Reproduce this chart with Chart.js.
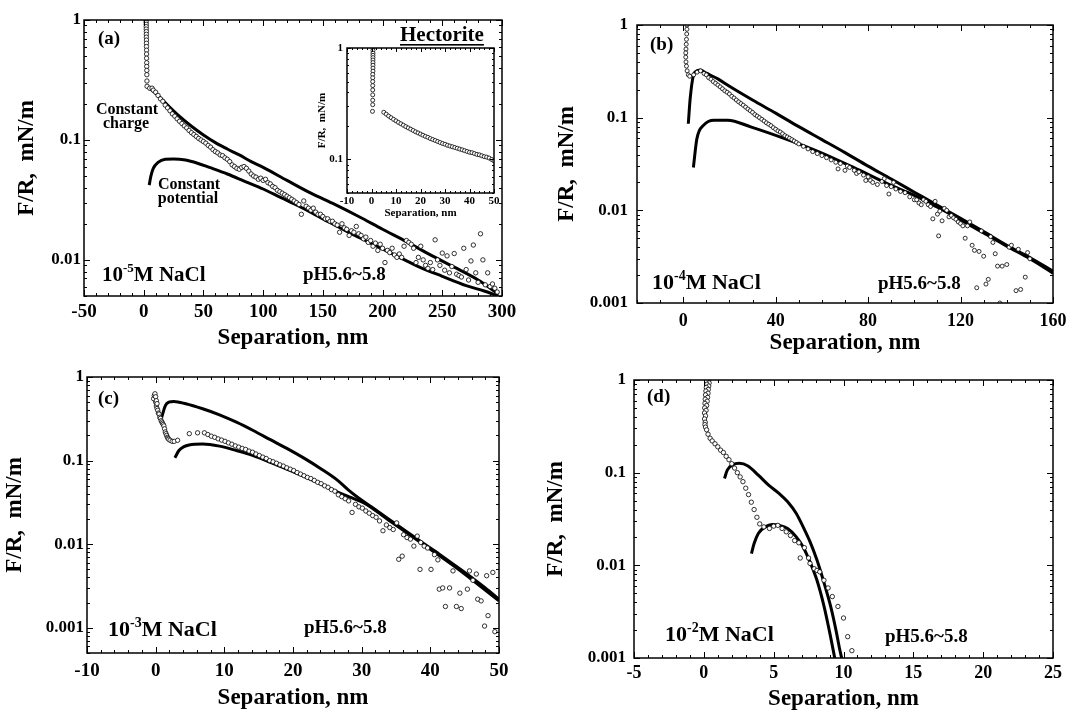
<!DOCTYPE html>
<html>
<head>
<meta charset="utf-8">
<title>Hectorite force curves</title>
<script src="https://cdn.jsdelivr.net/npm/chart.js@4.4.1/dist/chart.umd.min.js"></script>
<style>
  body { margin: 0; background: #fff; }
  #page { position: relative; width: 1066px; height: 717px; overflow: hidden; background: #fff; }
  canvas { position: absolute; }
</style>
</head>
<body>
<div id="page">
  <canvas id="panelA" width="533" height="360" style="left:0;top:0"></canvas>
  <canvas id="panelB" width="533" height="360" style="left:533px;top:0"></canvas>
  <canvas id="panelC" width="533" height="357" style="left:0;top:360px"></canvas>
  <canvas id="panelD" width="533" height="357" style="left:533px;top:360px"></canvas>
  <canvas id="inset" width="210" height="185" style="left:290px;top:38px"></canvas>
</div>
<script>
const SERIF = '"Liberation Serif", "Times New Roman", serif';

// (a) 1e-5 M NaCl
const aSepExp = [
  2.0, 2.0, 2.1, 2.1, 2.1, 2.2, 2.2, 2.2, 2.3, 2.3,
  2.3, 2.4, 2.4, 2.4, 2.5, 2.5, 2.6, 2.6, 2.7, 2.8,
  5, 7, 8, 10, 12, 14, 16, 18, 20, 22,
  24, 26, 28, 30, 32, 34, 36, 38, 40, 42,
  44, 46, 48, 50, 52, 54, 56, 58, 60, 62,
  64, 66, 68, 70, 72, 74, 76, 78, 80, 82,
  84, 86, 88, 90, 92, 94, 96, 98, 100, 102,
  104, 106, 108, 110, 112, 114, 116, 118, 120, 122,
  124, 126, 128, 130, 132, 134, 136, 138, 140, 142,
  144, 146, 148, 150, 152, 154, 156, 158, 160, 162,
  164, 166, 168, 170, 172, 174, 176, 178, 180, 182,
  184, 186, 188, 190, 192, 194, 196, 198, 200, 202,
  204, 206, 208, 210, 212, 214, 216, 218, 220, 222,
  224, 226, 228, 230, 232, 234, 236, 238, 240, 242,
  244, 246, 248, 250, 252, 254, 256, 258, 260, 262,
  264, 266, 268, 270, 272, 274, 276, 278, 280, 282,
  284, 286, 288, 290, 292, 294, 296
];
const aForceExp = [
  1.0, 0.96, 0.92, 0.88, 0.84, 0.8, 0.76, 0.72, 0.68, 0.64,
  0.6, 0.56, 0.52, 0.48, 0.44, 0.41, 0.38, 0.35, 0.31, 0.28,
  0.27, 0.27, 0.26, 0.25, 0.235, 0.22, 0.21, 0.195, 0.185, 0.175,
  0.165, 0.158, 0.15, 0.143, 0.137, 0.131, 0.126, 0.12, 0.115, 0.111,
  0.107, 0.103, 0.1, 0.097, 0.094, 0.09, 0.087, 0.083, 0.08, 0.078,
  0.075, 0.074, 0.071, 0.069, 0.066, 0.062, 0.06, 0.058, 0.057, 0.059,
  0.06, 0.058, 0.055, 0.052, 0.05, 0.049, 0.047, 0.048, 0.046, 0.047,
  0.044, 0.043, 0.041, 0.04, 0.038, 0.037, 0.036, 0.035, 0.034, 0.033,
  0.032, 0.031, 0.03, 0.029, 0.024, 0.031, 0.028, 0.027, 0.026, 0.027,
  0.025, 0.024, 0.024, 0.023, 0.022, 0.022, 0.021, 0.021, 0.02, 0.0195,
  0.017, 0.02, 0.0185, 0.018, 0.016, 0.0175, 0.017, 0.019, 0.0165, 0.016,
  0.015, 0.0155, 0.014, 0.0145, 0.013, 0.0138, 0.012, 0.0135, 0.0125, 0.0095,
  0.012, 0.0115, 0.0125, 0.011, 0.0105, 0.0112, 0.0105, 0.013, 0.0145, 0.014,
  0.0135, 0.0125, 0.0095, 0.0105, 0.013, 0.01, 0.009, 0.0085, 0.0095, 0.0083,
  0.0147, 0.01, 0.009, 0.0114, 0.0082, 0.0108, 0.0078, 0.0088, 0.0113, 0.0076,
  0.0074, 0.0072, 0.0125, 0.0083, 0.0068, 0.0098, 0.0133, 0.0078, 0.0065, 0.0165,
  0.01, 0.0062, 0.0078, 0.006, 0.0063, 0.0058, 0.0054
];
const aSepCharge = [5, 10, 20, 30, 40, 50, 60, 70, 80, 90, 100, 120, 140, 160, 180, 200, 220, 240, 260, 280, 297];
const aForceCharge = [0.27, 0.245, 0.195, 0.157, 0.13, 0.11, 0.095, 0.084, 0.075, 0.066, 0.059, 0.046, 0.036, 0.029, 0.023, 0.018, 0.0142, 0.011, 0.0087, 0.0068, 0.0052];
const aSepPot = [4.6, 6, 8, 12, 18, 25, 35, 45, 55, 70, 85, 100, 115, 130, 150, 170, 190, 210, 230, 250, 270, 285, 297];
const aForcePot = [0.042, 0.05, 0.058, 0.065, 0.069, 0.0695, 0.068, 0.064, 0.059, 0.052, 0.045, 0.039, 0.033, 0.028, 0.022, 0.0173, 0.0138, 0.011, 0.0088, 0.0073, 0.0061, 0.0055, 0.005];
const aXTicks = [-50, 0, 50, 100, 150, 200, 250, 300];
const aYTicks = [0.01, 0.1, 1];

// inset of (a)
const inSepExp = [
  0.6, 0.6, 0.6, 0.6, 0.6, 0.6, 0.6, 0.6, 0.6, 0.6,
  0.5, 0.5, 0.5, 0.5, 0.5, 0.5, 0.5, 0.5, 0.4,
  5, 6, 7, 8, 9, 10, 11, 12, 13, 14,
  15, 16, 17, 18, 19, 20, 21, 22, 23, 24,
  25, 26, 27, 28, 29, 30, 31, 32, 33, 34,
  35, 36, 37, 38, 39, 40, 41, 42, 43, 44,
  45, 46, 47, 48, 49, 50
];
const inForceExp = [
  1, 0.95, 0.9, 0.86, 0.82, 0.78, 0.74, 0.7, 0.66, 0.62,
  0.58, 0.54, 0.5, 0.46, 0.42, 0.38, 0.34, 0.31, 0.27,
  0.265, 0.255, 0.245, 0.237, 0.229, 0.222, 0.215, 0.209, 0.203, 0.197,
  0.192, 0.187, 0.182, 0.177, 0.173, 0.169, 0.165, 0.161, 0.158, 0.154,
  0.151, 0.148, 0.145, 0.142, 0.139, 0.137, 0.134, 0.132, 0.13, 0.128,
  0.126, 0.124, 0.122, 0.12, 0.118, 0.116, 0.115, 0.113, 0.111, 0.11,
  0.108, 0.106, 0.105, 0.103, 0.1, 0.097
];
const inXTicks = [-10, 0, 10, 20, 30, 40, 50];
const inYTicks = [0.1, 1];

// (b) 1e-4 M NaCl
const bSepExp = [
  1.6, 1.6, 1.5, 1.4, 1.3, 1.2, 1.1, 1.1, 1.2, 1.4, 1.7, 2.2, 2.8,
  4.5, 6, 7.5, 9, 10, 11, 12, 13, 14, 15,
  16, 17, 18, 19, 20, 21, 22, 23, 24, 25,
  26, 27, 28, 29, 30, 31, 32, 33, 34, 35,
  36, 37, 38, 39, 40, 41, 42, 43, 44, 45,
  46, 47, 48, 49, 50, 52, 54, 56, 58, 60,
  62, 64, 66, 67, 68, 70, 71, 72, 74, 75,
  76, 78, 79, 80, 81, 82, 84, 86, 87, 88,
  89, 90, 91, 92, 94, 96, 98, 100, 101, 102,
  103, 104, 105, 106, 107, 108, 109, 110, 110.5, 111,
  112, 113, 114, 115, 116, 117, 118, 119, 120, 121,
  122, 123, 124, 125, 126, 127, 128, 129, 130, 131,
  132, 133, 134, 135, 136, 137, 138, 140, 141, 142,
  144, 145, 146, 148, 149, 150
];
const bForceExp = [
  1, 0.9, 0.8, 0.7, 0.62, 0.55, 0.5, 0.45, 0.4, 0.36, 0.32, 0.29, 0.28,
  0.29, 0.31, 0.32, 0.3, 0.29, 0.27, 0.26, 0.245, 0.235, 0.225,
  0.215, 0.205, 0.195, 0.188, 0.18, 0.17, 0.163, 0.155, 0.148, 0.142,
  0.136, 0.13, 0.124, 0.119, 0.114, 0.108, 0.104, 0.1, 0.096, 0.092,
  0.088, 0.085, 0.082, 0.078, 0.075, 0.072, 0.07, 0.067, 0.064, 0.062,
  0.06, 0.058, 0.056, 0.054, 0.052, 0.049, 0.046, 0.043, 0.041, 0.039,
  0.037, 0.035, 0.033, 0.028, 0.032, 0.027, 0.03, 0.029, 0.027, 0.025,
  0.026, 0.024, 0.021, 0.023, 0.021, 0.02, 0.019, 0.0205, 0.022, 0.0185,
  0.015, 0.018, 0.02, 0.017, 0.016, 0.0155, 0.014, 0.013, 0.013, 0.012,
  0.0115, 0.013, 0.0125, 0.0115, 0.011, 0.0081, 0.0125, 0.0091, 0.0053, 0.0098,
  0.0077, 0.0105, 0.01, 0.0085, 0.0088, 0.0083, 0.008, 0.0075, 0.0072, 0.0068,
  0.005, 0.0068, 0.0075, 0.0042, 0.0037, 0.00146, 0.0036, 0.006, 0.0032, 0.0016,
  0.0018, 0.0052, 0.0045, 0.0034, 0.0025, 0.001, 0.0025, 0.0026, 0.004, 0.0042,
  0.00136, 0.0038, 0.0014, 0.0019, 0.0035, 0.003
];
const bSepCharge = [2.2, 3, 4.4, 5.5, 7.4, 10, 15, 20, 30, 40, 50, 60, 70, 80, 90, 100, 110, 120, 130, 140, 150, 160];
const bForceCharge = [0.086, 0.16, 0.287, 0.315, 0.326, 0.302, 0.262, 0.218, 0.155, 0.112, 0.08, 0.058, 0.042, 0.03, 0.0218, 0.0157, 0.0113, 0.0082, 0.0059, 0.0042, 0.0031, 0.0022];
const bSepPot = [4.4, 5.9, 8.85, 13.3, 19.2, 29.5, 44.2, 59, 73.7, 88.5, 100, 110, 120, 130, 140, 150, 160];
const bForcePot = [0.029, 0.059, 0.083, 0.094, 0.094, 0.079, 0.059, 0.0425, 0.029, 0.0193, 0.0145, 0.0108, 0.0079, 0.0057, 0.0041, 0.003, 0.0021];
const bXTicks = [0, 40, 80, 120, 160];
const bYTicks = [0.001, 0.01, 0.1, 1];

// (c) 1e-3 M NaCl
const cSepExp = [
  -0.3, -0.2, -0.1, 0, 0, 0.1, 0.1, 0.2, 0.2, 0.3,
  0.4, 0.5, 0.6, 0.7, 0.8, 0.9, 1.0, 1.1, 1.2, 1.3,
  1.4, 1.5, 1.6, 1.7, 1.8, 1.9, 2.1, 2.4, 2.7, 3.2,
  4.9, 6.1, 7.1, 7.6, 8.1, 8.6, 9.1, 9.6, 10.1, 10.6,
  11.1, 11.6, 12.1, 12.6, 13.1, 13.6, 14.1, 14.6, 15.1, 15.6,
  16.1, 16.6, 17.1, 17.6, 18.1, 18.6, 19.1, 19.6, 20.1, 20.6,
  21.1, 21.6, 22.1, 22.6, 23.1, 23.6, 24.1, 24.6, 25.1, 25.6,
  26.1, 26.6, 27.1, 27.6, 28.1, 28.6, 29.1, 29.6, 30.1, 30.6,
  31.1, 31.6, 32.1, 32.6, 33.1, 33.6, 34.1, 34.6, 35.1, 35.4,
  35.9, 36.1, 36.6, 37.1, 37.6, 38.1, 38.5, 38.6, 39.1, 39.6,
  40.1, 40.6, 41.1, 41.3, 41.8, 42.2, 42.8, 43.3, 43.8, 44.3,
  44.5, 45.4, 45.7, 46.2, 46.7, 46.9, 47.4, 47.9, 48.2, 48.4,
  49.1, 49.4
];
const cForceExp = [
  0.55, 0.6, 0.63, 0.5, 0.58, 0.45, 0.52, 0.42, 0.48, 0.4,
  0.37, 0.36, 0.33, 0.32, 0.3, 0.29, 0.28, 0.27, 0.26, 0.24,
  0.22, 0.21, 0.2, 0.19, 0.185, 0.18, 0.175, 0.17, 0.17, 0.175,
  0.21, 0.215, 0.215, 0.205, 0.196, 0.19, 0.182, 0.176, 0.17, 0.163,
  0.157, 0.15, 0.145, 0.14, 0.136, 0.13, 0.126, 0.12, 0.115, 0.11,
  0.106, 0.1, 0.097, 0.093, 0.089, 0.086, 0.082, 0.079, 0.076, 0.072,
  0.069, 0.066, 0.063, 0.061, 0.058, 0.055, 0.053, 0.05, 0.048, 0.045,
  0.043, 0.039, 0.037, 0.035, 0.033, 0.024, 0.03, 0.028, 0.027, 0.025,
  0.0235, 0.022, 0.021, 0.019, 0.0145, 0.017, 0.0158, 0.015, 0.018, 0.0066,
  0.0072, 0.013, 0.012, 0.0115, 0.0095, 0.0125, 0.005, 0.0105, 0.0095, 0.009,
  0.005, 0.0075, 0.0065, 0.0029, 0.003, 0.0018, 0.003, 0.0048, 0.0018, 0.0026,
  0.0017, 0.0029, 0.0048, 0.0037, 0.0044, 0.0022, 0.0021, 0.00105, 0.0042, 0.0014,
  0.0046, 0.0009
];
const cSepCharge = [0.84, 1.43, 1.92, 2.66, 4.38, 6.84, 9.3, 11.76, 14.2, 16.7, 19.1, 21.6, 24.05, 26.5, 28, 29.5, 31.4, 33.9, 36.35, 38.8, 41.3, 43.7, 46.2, 48, 50];
const cForceCharge = [0.322, 0.457, 0.5, 0.51, 0.479, 0.417, 0.353, 0.288, 0.229, 0.178, 0.14, 0.107, 0.08, 0.058, 0.045, 0.036, 0.028, 0.02, 0.0145, 0.0105, 0.0076, 0.0055, 0.0039, 0.003, 0.0022];
const cSepPot = [2.8, 3.39, 4.13, 4.87, 6.84, 9.3, 11.76, 14.2, 16.7, 19.1, 21.6, 24.05, 26.5, 28.5, 30.4, 33.9, 38.8, 43.7, 50];
const cForcePot = [0.108, 0.132, 0.147, 0.154, 0.158, 0.149, 0.132, 0.115, 0.0955, 0.079, 0.0649, 0.0525, 0.042, 0.036, 0.031, 0.0195, 0.0102, 0.0053, 0.0021];
const cXTicks = [-10, 0, 10, 20, 30, 40, 50];
const cYTicks = [0.001, 0.01, 0.1, 1];

// (d) 1e-2 M NaCl
const dSepExp = [
  0.35, 0.2, 0.38, 0.22, 0.35, 0.18, 0.32, 0.15, 0.3, 0.12,
  0.27, 0.1, 0.24, 0.08, 0.2, 0.06, 0.16, 0.05, 0.12, 0.05,
  0.1, 0.08, 0.12, 0.2, 0.3, 0.45, 0.6, 0.8, 1.0, 1.2,
  1.4, 1.6, 1.8, 2.0, 2.2, 2.4, 2.6, 2.8, 3.0, 3.2,
  3.4, 3.6, 3.8, 4.0, 4.3, 4.7, 5.0, 5.3, 5.6, 5.9,
  6.2, 6.5, 6.8, 6.9, 7.2, 7.5, 7.6, 7.9, 8.1, 8.3,
  8.6, 8.9, 9.2, 9.6, 10.0, 10.3, 10.6
];
const dForceExp = [
  1, 0.97, 0.93, 0.9, 0.86, 0.83, 0.79, 0.76, 0.72, 0.69,
  0.65, 0.62, 0.59, 0.56, 0.53, 0.5, 0.47, 0.44, 0.41, 0.38,
  0.35, 0.33, 0.31, 0.29, 0.26, 0.235, 0.22, 0.205, 0.19, 0.175,
  0.165, 0.15, 0.138, 0.125, 0.112, 0.1, 0.09, 0.08, 0.068, 0.058,
  0.048, 0.04, 0.033, 0.028, 0.026, 0.025, 0.0265, 0.027, 0.025, 0.023,
  0.021, 0.0185, 0.0175, 0.012, 0.0155, 0.012, 0.0105, 0.0092, 0.0088, 0.0085,
  0.0069, 0.0057, 0.0046, 0.0036, 0.0027, 0.0017, 0.0012
];
const dSepCharge = [1.48, 1.68, 2.05, 2.54, 3.16, 3.9, 4.64, 5.38, 6.0, 6.62, 7.11, 7.6, 8.1, 8.59, 9.09, 9.46, 9.7, 9.9];
const dForceCharge = [0.0866, 0.1066, 0.121, 0.126, 0.118, 0.094, 0.0734, 0.0597, 0.0485, 0.0363, 0.026, 0.018, 0.0114, 0.0066, 0.00356, 0.002, 0.0013, 0.00095];
const dSepPot = [3.41, 3.6, 3.9, 4.4, 4.89, 5.38, 6.0, 6.62, 7.11, 7.6, 8.1, 8.59, 9.04, 9.4];
const dForcePot = [0.0134, 0.0172, 0.0221, 0.026, 0.0276, 0.0271, 0.025, 0.0203, 0.0158, 0.0109, 0.0069, 0.0037, 0.0018, 0.00095];
const dXTicks = [-5, 0, 5, 10, 15, 20, 25];
const dYTicks = [0.001, 0.01, 0.1, 1];

function pts(xs, ys) {
  return xs.map((x, i) => ({ x: x, y: ys[i] }));
}

function expSet(xs, ys, r) {
  return {
    data: pts(xs, ys),
    showLine: false,
    pointRadius: r || 2.2,
    pointBorderWidth: 0.8,
    pointBackgroundColor: '#fff',
    pointBorderColor: '#000'
  };
}

function theorySet(xs, ys) {
  return {
    data: pts(xs, ys),
    showLine: true,
    borderColor: '#000',
    borderWidth: 3,
    pointRadius: 0,
    cubicInterpolationMode: 'monotone'
  };
}

// box with inward ticks on all four sides
const frame = {
  id: 'frame',
  afterDatasetsDraw(chart, args, opts) {
    const { ctx, chartArea: a } = chart;
    const x = chart.scales.x, y = chart.scales.y;
    const big = opts.major, small = opts.minor;
    ctx.save();
    ctx.strokeStyle = '#000';
    ctx.lineWidth = 1.5;
    ctx.strokeRect(a.left, a.top, a.right - a.left, a.bottom - a.top);
    ctx.lineWidth = 1;
    ctx.beginPath();
    const step = opts.xMinor, every = opts.xMajor;
    for (let k = Math.ceil(x.min / step); k * step <= x.max + 1e-9; k++) {
      const v = k * step;
      const px = Math.round(x.getPixelForValue(v)) + 0.5;
      const len = Math.abs(v / every - Math.round(v / every)) < 1e-6 ? big : small;
      ctx.moveTo(px, a.bottom); ctx.lineTo(px, a.bottom - len);
      ctx.moveTo(px, a.top); ctx.lineTo(px, a.top + len);
    }
    const d0 = Math.floor(Math.log10(y.min)), d1 = Math.ceil(Math.log10(y.max));
    for (let d = d0; d <= d1; d++) {
      for (let m = 1; m <= 9; m++) {
        const v = m * Math.pow(10, d);
        if (v < y.min * 0.999 || v > y.max * 1.001) continue;
        const py = Math.round(y.getPixelForValue(v)) + 0.5;
        const len = m === 1 ? big : small;
        ctx.moveTo(a.left, py); ctx.lineTo(a.left + len, py);
        ctx.moveTo(a.right, py); ctx.lineTo(a.right - len, py);
      }
    }
    ctx.stroke();
    ctx.restore();
  }
};

// labels written inside the panels
const notes = {
  id: 'notes',
  afterDraw(chart, args, opts) {
    const ctx = chart.ctx;
    for (const n of opts.items || []) {
      ctx.save();
      ctx.fillStyle = '#000';
      ctx.textBaseline = 'alphabetic';
      const parts = n.parts || [{ t: n.text }];
      const fontFor = p => 'bold ' + (p.sup ? Math.round(n.size * 0.62) : n.size) + 'px ' + SERIF;
      let width = 0;
      parts.forEach(p => { ctx.font = fontFor(p); width += ctx.measureText(p.t).width; });
      let x = n.align === 'center' ? n.x - width / 2 : n.x;
      const x0 = x;
      parts.forEach(p => {
        ctx.font = fontFor(p);
        ctx.fillText(p.t, x, n.y - (p.sup ? n.size * 0.42 : 0));
        x += ctx.measureText(p.t).width;
      });
      if (n.underline) ctx.fillRect(x0, n.y + 3, width, 1.6);
      ctx.restore();
    }
  }
};

function salt(exp) {
  return [{ t: '10' }, { t: exp, sup: true }, { t: 'M NaCl' }];
}

function panel(id, c) {
  const font = (size) => ({ family: SERIF, size: size, weight: 'bold' });
  return new Chart(document.getElementById(id), {
    type: 'scatter',
    data: { datasets: c.datasets },
    options: {
      responsive: false,
      animation: false,
      events: [],
      layout: { padding: c.pad },
      plugins: {
        legend: { display: false },
        tooltip: { enabled: false },
        frame: { xMinor: c.xMinor, xMajor: c.xMajor, major: c.tick || 6, minor: (c.tick || 6) / 2 },
        notes: { items: c.notes }
      },
      scales: {
        x: {
          type: 'linear',
          min: c.xMin,
          max: c.xMax,
          afterBuildTicks: s => { s.ticks = c.xTicks.map(v => ({ value: v })); },
          afterFit: s => { s.height = c.xh; s.paddingLeft = 0; s.paddingRight = 0; },
          grid: { display: false, drawTicks: false },
          border: { display: false },
          ticks: { font: font(c.xTickSize), color: '#000', padding: c.xTickPad, autoSkip: false, maxRotation: 0, callback: v => String(v) },
          title: { display: true, text: 'Separation, nm', color: '#000', font: font(c.titleSize), padding: { top: 0, bottom: c.xTitlePad } }
        },
        y: {
          type: 'logarithmic',
          min: c.yMin,
          max: 1,
          afterBuildTicks: s => { s.ticks = c.yTicks.map(v => ({ value: v })); },
          afterFit: s => { s.width = c.yw; s.paddingTop = 0; s.paddingBottom = 0; },
          grid: { display: false, drawTicks: false },
          border: { display: false },
          ticks: { font: font(c.yTickSize), color: '#000', padding: c.yTickPad, autoSkip: false, callback: v => String(v) },
          title: { display: true, text: 'F/R,  mN/m', color: '#000', font: font(c.titleSize), padding: { top: c.yTitlePad, bottom: 0 } }
        }
      }
    },
    plugins: [frame, notes]
  });
}

panel('panelA', {
  datasets: [
    expSet(aSepExp, aForceExp),
    theorySet(aSepCharge, aForceCharge),
    theorySet(aSepPot, aForcePot)
  ],
  xMin: -50, xMax: 300, yMin: 0.005, xTicks: aXTicks, yTicks: aYTicks, xMinor: 10, xMajor: 50,
  pad: { left: 0, top: 20, right: 31, bottom: 0 }, yw: 84, xh: 64,
  xTickSize: 19, yTickSize: 17, titleSize: 23, xTickPad: 5, yTickPad: 3, xTitlePad: 8, yTitlePad: 13,
  notes: [
    { text: '(a)', x: 98, y: 44, size: 19 },
    { text: 'Hectorite', x: 400, y: 41, size: 21, underline: true },
    { text: 'Constant', x: 127, y: 114, size: 16, align: 'center' },
    { text: 'charge', x: 126, y: 128, size: 16, align: 'center' },
    { text: 'Constant', x: 189, y: 189, size: 16, align: 'center' },
    { text: 'potential', x: 188, y: 203, size: 16, align: 'center' },
    { parts: salt('-5'), x: 102, y: 281, size: 21 },
    { text: 'pH5.6~5.8', x: 303, y: 280, size: 19 }
  ]
});

panel('inset', {
  datasets: [expSet(inSepExp, inForceExp, 2)],
  xMin: -10, xMax: 50, yMin: 0.05, xTicks: inXTicks, yTicks: inYTicks, xMinor: 2, xMajor: 10, tick: 4,
  pad: { left: 0, top: 10, right: 6, bottom: 0 }, yw: 57, xh: 30,
  xTickSize: 11, yTickSize: 11, titleSize: 11, xTickPad: 2, yTickPad: 4, xTitlePad: 3, yTitlePad: 26,
  notes: []
});

panel('panelB', {
  datasets: [
    expSet(bSepExp, bForceExp, 2),
    theorySet(bSepCharge, bForceCharge),
    theorySet(bSepPot, bForcePot)
  ],
  xMin: -20, xMax: 160, yMin: 0.001, xTicks: bXTicks, yTicks: bYTicks, xMinor: 10, xMajor: 40,
  pad: { left: 0, top: 25, right: 13, bottom: 0 }, yw: 104, xh: 57,
  xTickSize: 18, yTickSize: 17, titleSize: 23, xTickPad: 8, yTickPad: 9, xTitlePad: 3, yTitlePad: 20,
  notes: [
    { text: '(b)', x: 117, y: 50, size: 19 },
    { parts: salt('-4'), x: 119, y: 289, size: 22 },
    { text: 'pH5.6~5.8', x: 345, y: 289, size: 19 }
  ]
});

panel('panelC', {
  datasets: [
    expSet(cSepExp, cForceExp),
    theorySet(cSepCharge, cForceCharge),
    theorySet(cSepPot, cForcePot)
  ],
  xMin: -10, xMax: 50, yMin: 0.0005, xTicks: cXTicks, yTicks: cYTicks, xMinor: 2, xMajor: 10,
  pad: { left: 0, top: 17, right: 34, bottom: 0 }, yw: 87, xh: 64,
  xTickSize: 19, yTickSize: 17, titleSize: 23, xTickPad: 7, yTickPad: 3, xTitlePad: 5, yTitlePad: 1,
  notes: [
    { text: '(c)', x: 98, y: 44, size: 19 },
    { parts: salt('-3'), x: 108, y: 276, size: 22 },
    { text: 'pH5.6~5.8', x: 304, y: 273, size: 19 }
  ]
});

panel('panelD', {
  datasets: [
    expSet(dSepExp, dForceExp),
    theorySet(dSepCharge, dForceCharge),
    theorySet(dSepPot, dForcePot)
  ],
  xMin: -5, xMax: 25, yMin: 0.001, xTicks: dXTicks, yTicks: dYTicks, xMinor: 1, xMajor: 5,
  pad: { left: 0, top: 20, right: 13, bottom: 0 }, yw: 101, xh: 59,
  xTickSize: 18, yTickSize: 17, titleSize: 23, xTickPad: 5, yTickPad: 8, xTitlePad: 4, yTitlePad: 9,
  notes: [
    { text: '(d)', x: 114, y: 42, size: 19 },
    { parts: salt('-2'), x: 132, y: 281, size: 22 },
    { text: 'pH5.6~5.8', x: 352, y: 282, size: 19 }
  ]
});
</script>
</body>
</html>
